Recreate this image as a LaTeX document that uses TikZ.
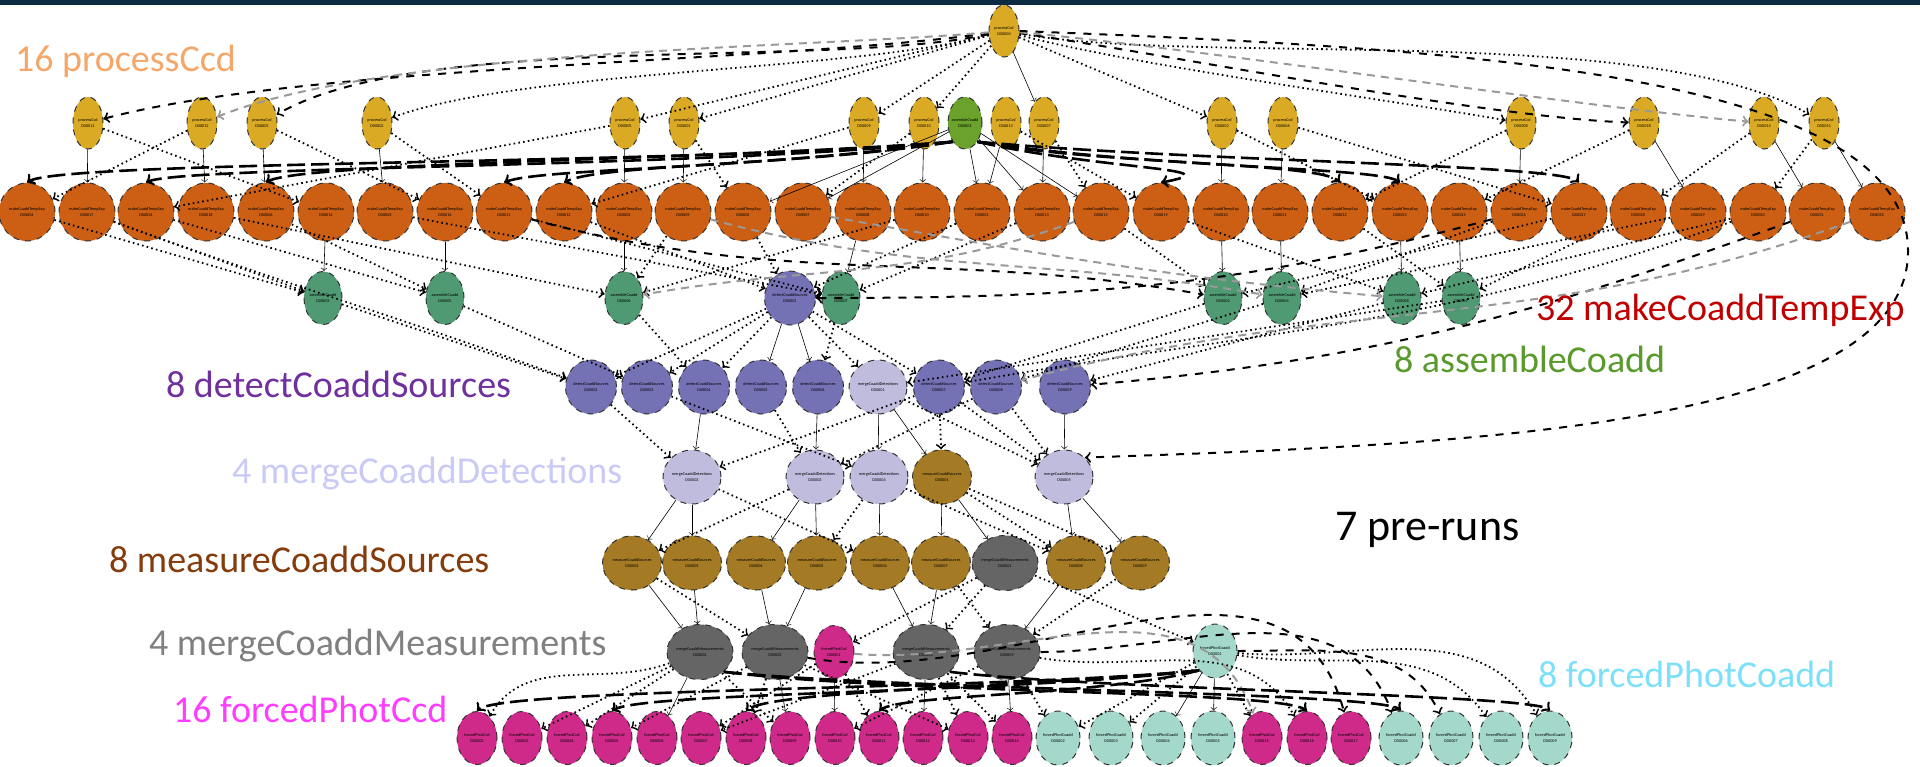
\documentclass[tikz,border=0pt]{standalone}
\usepackage{fontspec}
\setmainfont{Carlito}
\usetikzlibrary{shapes.geometric}

\definecolor{topbar}{HTML}{0B2B42}
\definecolor{pcfill}{HTML}{DBAA24}
\definecolor{agfill}{HTML}{6AA22C}
\definecolor{mtfill}{HTML}{CC5F14}
\definecolor{acfill}{HTML}{4F9A72}
\definecolor{dcfill}{HTML}{7571B5}
\definecolor{mdfill}{HTML}{C0BCDD}
\definecolor{msfill}{HTML}{A57A24}
\definecolor{mmfill}{HTML}{656565}
\definecolor{fcfill}{HTML}{CF2A8A}
\definecolor{fpfill}{HTML}{A3D8CA}
\definecolor{pctext}{HTML}{F5A769}
\definecolor{mttext}{HTML}{C00000}
\definecolor{actext}{HTML}{5A9A2D}
\definecolor{dctext}{HTML}{7030A0}
\definecolor{mdtext}{HTML}{CACAF7}
\definecolor{mstext}{HTML}{843C0C}
\definecolor{mmtext}{HTML}{808080}
\definecolor{fctext}{HTML}{FF3DFF}
\definecolor{fptext}{HTML}{7DE0FB}

% two tiny lines that never widen the ellipse
\newcommand{\tsk}[2]{\makebox[0pt]{#1}\\\makebox[0pt]{#2}}

\tikzset{
  task/.style={ellipse,draw=black!80,dashed,line width=0.5pt,inner sep=0pt,
    align=center,font=\fontsize{2.1}{2.9}\selectfont},
  count/.style={anchor=base west,font=\fontsize{19}{22}\selectfont},
  hardedge/.style={draw=black,line width=0.3pt,->},
  dotedge/.style={draw=black,line width=0.9pt,dash pattern=on 0.8pt off 1.6pt,->},
  dashedge/.style={draw=black,line width=1pt,dash pattern=on 4pt off 4pt,->},
  grayedge/.style={draw=black!40,line width=1pt,dash pattern=on 4pt off 3pt,->},
  bandedge/.style={draw=black,line width=1.3pt,dash pattern=on 9pt off 3pt,->}
}

\begin{document}
\begin{tikzpicture}[x=0.5pt,y=-0.5pt]
  \useasboundingbox (0,0) rectangle (1920,766);
  \fill[white] (0,0) rectangle (1920,766);
  \fill[topbar] (0,0) rectangle (1920,5);

  % processCcd
  \begin{scope}[every node/.style={task,fill=pcfill,minimum width=15pt,minimum height=26pt}]
    \node (pcA) at (1004,31) {\tsk{processCcd}{D00000}};
    \node (pc1) at (88,123) {\tsk{processCcd}{D00011}};
    \node (pc2) at (202,123) {\tsk{processCcd}{D00012}};
    \node (pc3) at (262,123) {\tsk{processCcd}{D00003}};
    \node (pc4) at (377,123) {\tsk{processCcd}{D00002}};
    \node (pc5) at (625,123) {\tsk{processCcd}{D00005}};
    \node (pc6) at (684,123) {\tsk{processCcd}{D00001}};
    \node (pc7) at (864,123) {\tsk{processCcd}{D00009}};
    \node (pc8) at (924,123) {\tsk{processCcd}{D00010}};
    \node (pc9) at (1006,123) {\tsk{processCcd}{D00013}};
    \node (pc10) at (1044,123) {\tsk{processCcd}{D00007}};
    \node (pc11) at (1222,123) {\tsk{processCcd}{D00002}};
    \node (pc12) at (1283,123) {\tsk{processCcd}{D00006}};
    \node (pc13) at (1521,123) {\tsk{processCcd}{D00008}};
    \node (pc14) at (1644,123) {\tsk{processCcd}{D00018}};
    \node (pc15) at (1764,123) {\tsk{processCcd}{D00014}};
    \node (pc16) at (1824,123) {\tsk{processCcd}{D00015}};
  \end{scope}
  \begin{scope}[every node/.style={task,fill=agfill,minimum width=17pt,minimum height=26pt}]
    \node (ag) at (965,123) {\tsk{assembleCoadd}{D00001}};
  \end{scope}

  % makeCoaddTempExp
  \begin{scope}[every node/.style={task,fill=mtfill,minimum width=28pt,minimum height=29pt}]
    \node (mt1) at (27,212) {\tsk{makeCoaddTempExp}{D00004}};
    \node (mt2) at (87,212) {\tsk{makeCoaddTempExp}{D00017}};
    \node (mt3) at (146,212) {\tsk{makeCoaddTempExp}{D00024}};
    \node (mt4) at (206,212) {\tsk{makeCoaddTempExp}{D00018}};
    \node (mt5) at (266,212) {\tsk{makeCoaddTempExp}{D00006}};
    \node (mt6) at (326,212) {\tsk{makeCoaddTempExp}{D00014}};
    \node (mt7) at (385,212) {\tsk{makeCoaddTempExp}{D00003}};
    \node (mt8) at (445,212) {\tsk{makeCoaddTempExp}{D00016}};
    \node (mt9) at (504,212) {\tsk{makeCoaddTempExp}{D00011}};
    \node (mt10) at (564,212) {\tsk{makeCoaddTempExp}{D00012}};
    \node (mt11) at (624,212) {\tsk{makeCoaddTempExp}{D00002}};
    \node (mt12) at (683,212) {\tsk{makeCoaddTempExp}{D00009}};
    \node (mt13) at (743,212) {\tsk{makeCoaddTempExp}{D00005}};
    \node (mt14) at (803,212) {\tsk{makeCoaddTempExp}{D00007}};
    \node (mt15) at (863,212) {\tsk{makeCoaddTempExp}{D00008}};
    \node (mt16) at (922,212) {\tsk{makeCoaddTempExp}{D00010}};
    \node (mt17) at (982,212) {\tsk{makeCoaddTempExp}{D00001}};
    \node (mt18) at (1042,212) {\tsk{makeCoaddTempExp}{D00013}};
    \node (mt19) at (1101,212) {\tsk{makeCoaddTempExp}{D00015}};
    \node (mt20) at (1161,212) {\tsk{makeCoaddTempExp}{D00019}};
    \node (mt21) at (1221,212) {\tsk{makeCoaddTempExp}{D00020}};
    \node (mt22) at (1280,212) {\tsk{makeCoaddTempExp}{D00021}};
    \node (mt23) at (1340,212) {\tsk{makeCoaddTempExp}{D00022}};
    \node (mt24) at (1400,212) {\tsk{makeCoaddTempExp}{D00023}};
    \node (mt25) at (1459,212) {\tsk{makeCoaddTempExp}{D00025}};
    \node (mt26) at (1519,212) {\tsk{makeCoaddTempExp}{D00026}};
    \node (mt27) at (1579,212) {\tsk{makeCoaddTempExp}{D00027}};
    \node (mt28) at (1638,212) {\tsk{makeCoaddTempExp}{D00028}};
    \node (mt29) at (1698,212) {\tsk{makeCoaddTempExp}{D00029}};
    \node (mt30) at (1758,212) {\tsk{makeCoaddTempExp}{D00030}};
    \node (mt31) at (1817,212) {\tsk{makeCoaddTempExp}{D00031}};
    \node (mt32) at (1877,212) {\tsk{makeCoaddTempExp}{D00032}};
  \end{scope}

  % assembleCoadd
  \begin{scope}[every node/.style={task,fill=acfill,minimum width=19pt,minimum height=26.5pt}]
    \node (ac1) at (323,298) {\tsk{assembleCoadd}{D00003}};
    \node (ac2) at (445,298) {\tsk{assembleCoadd}{D00005}};
    \node (ac3) at (624,298) {\tsk{assembleCoadd}{D00006}};
    \node (ac4) at (841,298) {\tsk{assembleCoadd}{D00007}};
    \node (ac5) at (1223,298) {\tsk{assembleCoadd}{D00002}};
    \node (ac6) at (1282,298) {\tsk{assembleCoadd}{D00004}};
    \node (ac7) at (1402,298) {\tsk{assembleCoadd}{D00008}};
    \node (ac8) at (1461,298) {\tsk{assembleCoadd}{D00009}};
  \end{scope}

  % detectCoaddSources
  \begin{scope}[every node/.style={task,fill=dcfill,minimum width=25.5pt,minimum height=27pt}]
    \node (dc0) at (790,298) {\tsk{detectCoaddSources}{D00001}};
    \node (dc1) at (591,387) {\tsk{detectCoaddSources}{D00002}};
    \node (dc2) at (647,387) {\tsk{detectCoaddSources}{D00003}};
    \node (dc3) at (704,387) {\tsk{detectCoaddSources}{D00004}};
    \node (dc4) at (761,387) {\tsk{detectCoaddSources}{D00005}};
    \node (dc5) at (818,387) {\tsk{detectCoaddSources}{D00006}};
    \node (dc6) at (939,387) {\tsk{detectCoaddSources}{D00007}};
    \node (dc7) at (996,387) {\tsk{detectCoaddSources}{D00008}};
    \node (dc8) at (1065,387) {\tsk{detectCoaddSources}{D00009}};
  \end{scope}

  % mergeCoaddDetections
  \begin{scope}[every node/.style={task,fill=mdfill,minimum width=29pt,minimum height=27pt}]
    \node (md0) at (878,387) {\tsk{mergeCoaddDetections}{D00001}};
    \node (md1) at (692,477) {\tsk{mergeCoaddDetections}{D00002}};
    \node (md2) at (815,477) {\tsk{mergeCoaddDetections}{D00003}};
    \node (md3) at (879,477) {\tsk{mergeCoaddDetections}{D00004}};
    \node (md4) at (1064,477) {\tsk{mergeCoaddDetections}{D00005}};
  \end{scope}

  % measureCoaddSources
  \begin{scope}[every node/.style={task,fill=msfill,minimum width=29.5pt,minimum height=27pt}]
    \node (ms0) at (942,477) {\tsk{measureCoaddSources}{D00001}};
    \node (ms1) at (632,563) {\tsk{measureCoaddSources}{D00002}};
    \node (ms2) at (692,563) {\tsk{measureCoaddSources}{D00003}};
    \node (ms3) at (756,563) {\tsk{measureCoaddSources}{D00004}};
    \node (ms4) at (817,563) {\tsk{measureCoaddSources}{D00005}};
    \node (ms5) at (880,563) {\tsk{measureCoaddSources}{D00006}};
    \node (ms6) at (941,563) {\tsk{measureCoaddSources}{D00007}};
    \node (ms7) at (1076,563) {\tsk{measureCoaddSources}{D00008}};
    \node (ms8) at (1140,563) {\tsk{measureCoaddSources}{D00009}};
  \end{scope}

  % mergeCoaddMeasurements
  \begin{scope}[every node/.style={task,fill=mmfill,minimum width=33pt,minimum height=27.5pt}]
    \node (mm0) at (1005,563) {\tsk{mergeCoaddMeasurements}{D00001}};
    \node (mm1) at (700,652) {\tsk{mergeCoaddMeasurements}{D00002}};
    \node (mm2) at (775,652) {\tsk{mergeCoaddMeasurements}{D00003}};
    \node (mm3) at (926,652) {\tsk{mergeCoaddMeasurements}{D00004}};
    \node (mm4) at (1007,652) {\tsk{mergeCoaddMeasurements}{D00005}};
  \end{scope}

  % forcedPhotCcd
  \begin{scope}[every node/.style={task,fill=fcfill,minimum width=20pt,minimum height=26.5pt}]
    \node (fc0) at (834,652) {\tsk{forcedPhotCcd}{D00001}};
    \node (fc1) at (477,738) {\tsk{forcedPhotCcd}{D00002}};
    \node (fc2) at (522,738) {\tsk{forcedPhotCcd}{D00003}};
    \node (fc3) at (567,738) {\tsk{forcedPhotCcd}{D00004}};
    \node (fc4) at (612,738) {\tsk{forcedPhotCcd}{D00005}};
    \node (fc5) at (657,738) {\tsk{forcedPhotCcd}{D00006}};
    \node (fc6) at (701,738) {\tsk{forcedPhotCcd}{D00007}};
    \node (fc7) at (746,738) {\tsk{forcedPhotCcd}{D00008}};
    \node (fc8) at (790,738) {\tsk{forcedPhotCcd}{D00009}};
    \node (fc9) at (835,738) {\tsk{forcedPhotCcd}{D00010}};
    \node (fc10) at (879,738) {\tsk{forcedPhotCcd}{D00011}};
    \node (fc11) at (923,738) {\tsk{forcedPhotCcd}{D00012}};
    \node (fc12) at (968,738) {\tsk{forcedPhotCcd}{D00013}};
    \node (fc13) at (1012,738) {\tsk{forcedPhotCcd}{D00014}};
    \node (fc14) at (1262,738) {\tsk{forcedPhotCcd}{D00015}};
    \node (fc15) at (1307,738) {\tsk{forcedPhotCcd}{D00016}};
    \node (fc16) at (1351,738) {\tsk{forcedPhotCcd}{D00017}};
  \end{scope}

  % forcedPhotCoadd
  \begin{scope}[every node/.style={task,fill=fpfill,minimum width=22pt,minimum height=27pt}]
    \node (fp0) at (1215,651) {\tsk{forcedPhotCoadd}{D00001}};
    \node (fp1) at (1058,738) {\tsk{forcedPhotCoadd}{D00002}};
    \node (fp2) at (1111,738) {\tsk{forcedPhotCoadd}{D00003}};
    \node (fp3) at (1163,738) {\tsk{forcedPhotCoadd}{D00004}};
    \node (fp4) at (1213,738) {\tsk{forcedPhotCoadd}{D00005}};
    \node (fp5) at (1401,738) {\tsk{forcedPhotCoadd}{D00006}};
    \node (fp6) at (1451,738) {\tsk{forcedPhotCoadd}{D00007}};
    \node (fp7) at (1501,738) {\tsk{forcedPhotCoadd}{D00008}};
    \node (fp8) at (1550,738) {\tsk{forcedPhotCoadd}{D00009}};
  \end{scope}

  % thin solid arrows
  \begin{scope}[every edge/.style={hardedge}]
    \path (pcA) edge (pc10);
    \path (pc1) edge (mt2);
    \path (pc2) edge (mt4);
    \path (pc3) edge (mt5);
    \path (pc4) edge (mt7);
    \path (pc5) edge (mt11);
    \path (pc6) edge (mt12);
    \path (pc7) edge (mt15);
    \path (pc8) edge (mt16);
    \path (pc9) edge (mt17);
    \path (pc10) edge (mt18);
    \path (pc11) edge (mt21);
    \path (pc12) edge (mt22);
    \path (pc13) edge (mt26);
    \path (pc14) edge (mt29);
    \path (pc15) edge (mt31);
    \path (pc16) edge (mt32);
    \path (ag) edge (mt13);
    \path (ag) edge (mt14);
    \path (ag) edge (mt17);
    \path (ag) edge (mt18);
    \path (ag) edge (mt19);
    \path (mt6) edge (ac1);
    \path (mt8) edge (ac2);
    \path (mt11) edge (ac3);
    \path (mt15) edge (ac4);
    \path (mt21) edge (ac5);
    \path (mt22) edge (ac6);
    \path (mt24) edge (ac7);
    \path (mt25) edge (ac8);
    \path (dc0) edge (dc4);
    \path (dc0) edge (dc5);
    \path (dc3) edge (md1);
    \path (dc5) edge (md2);
    \path (md0) edge (md3);
    \path (md0) edge (ms0);
    \path (dc8) edge (md4);
    \path (md1) edge (ms1);
    \path (md1) edge (ms2);
    \path (md2) edge (ms3);
    \path (md2) edge (ms4);
    \path (md3) edge (ms5);
    \path (ms0) edge (ms6);
    \path (ms0) edge (mm0);
    \path (md4) edge (ms7);
    \path (md4) edge (ms8);
    \path (ms1) edge (mm1);
    \path (ms2) edge (mm1);
    \path (ms3) edge (mm2);
    \path (ms4) edge (mm2);
    \path (ms5) edge (mm3);
    \path (ms6) edge (mm3);
    \path (ms7) edge (mm4);
    \path (mm1) edge (fc5);
    \path (mm2) edge (fc8);
    \path (fc0) edge (fc9);
    \path (mm3) edge (fc11);
    \path (mm4) edge (fc13);
    \path (fp0) edge (fp4);
    \path (fp0) edge (fp3);
  \end{scope}

  % dotted arrows
  \begin{scope}[every edge/.style={dotedge}]
    \path (pcA) edge (pc5);
    \path (pcA) edge (pc6);
    \path (pcA) edge (pc7);
    \path (pcA) edge (pc8);
    \path (pcA) edge (pc11);
    \path (pcA) edge[out=195,in=20,looseness=0.6] (pc4);
    \path (pcA) edge[out=345,in=170,looseness=0.6] (pc13);
    \path (pcA) edge[out=350,in=150,looseness=0.6] (pc16);
    \path (pc1) edge (mt6);
    \path (pc2) edge (mt1);
    \path (pc3) edge (mt8);
    \path (pc4) edge (mt9);
    \path (pc5) edge (mt3);
    \path (pc6) edge (mt13);
    \path (pc7) edge (mt10);
    \path (pc8) edge (mt14);
    \path (pc9) edge (mt20);
    \path (pc10) edge (mt19);
    \path (pc11) edge (mt24);
    \path (pc12) edge (mt27);
    \path (pc13) edge (mt23);
    \path (pc14) edge (mt25);
    \path (pc15) edge (mt28);
    \path (pc16) edge (mt30);
    \path (mt1) edge (ac1);
    \path (mt2) edge (ac1);
    \path (mt3) edge (ac2);
    \path (mt4) edge (ac3);
    \path (mt5) edge (ac2);
    \path (mt7) edge (ac4);
    \path (mt9) edge (ac4);
    \path (mt10) edge (dc0);
    \path (mt12) edge (ac3);
    \path (mt13) edge (dc0);
    \path (mt16) edge (ac3);
    \path (mt17) edge (dc0);
    \path (mt18) edge (ac4);
    \path (mt19) edge (ac5);
    \path (mt20) edge (ac7);
    \path (mt23) edge (ac8);
    \path (mt26) edge (ac6);
    \path (mt27) edge (ac5);
    \path (mt28) edge (ac8);
    \path (mt29) edge (ac6);
    \path (mt30) edge (ac7);
    \path (mt30) edge[out=200,in=10] (dc6);
    \path (mt2) edge[out=-20,in=160] (dc1);
    \path (ac1) edge (dc1);
    \path (ac2) edge (dc2);
    \path (ac3) edge (dc3);
    \path (ac4) edge (dc5);
    \path (ac5) edge (dc6);
    \path (ac6) edge (dc7);
    \path (ac7) edge (dc8);
    \path (ac8) edge (md0);
    \path (dc0) edge (dc1);
    \path (dc0) edge (dc2);
    \path (dc0) edge (dc3);
    \path (dc0) edge (md0);
    \path (dc0) edge (dc6);
    \path (dc1) edge (md1);
    \path (dc2) edge (md3);
    \path (dc4) edge (md2);
    \path (dc6) edge (md1);
    \path (dc7) edge (md2);
    \path (dc6) edge (md4);
    \path (dc7) edge (md4);
    \path (md0) edge (md4);
    \path (dc6) edge (ms0);
    \path (md1) edge (ms5);
    \path (md2) edge (ms1);
    \path (md3) edge (ms4);
    \path (md3) edge (ms7);
    \path (ms0) edge (ms7);
    \path (ms0) edge (ms8);
    \path (ms8) edge (mm4);
    \path (ms1) edge (mm2);
    \path (ms6) edge (mm4);
    \path (mm0) edge (fc0);
    \path (mm0) edge (mm3);
    \path (mm0) edge (fp0);
    \path (mm1) edge[out=200,in=60] (fc1);
    \path (mm1) edge (fc2);
    \path (mm1) edge (fc3);
    \path (mm1) edge (fc8);
    \path (mm2) edge (fc4);
    \path (mm2) edge (fc7);
    \path (mm2) edge (fc12);
    \path (fc0) edge (fc10);
    \path (fc0) edge (fc6);
    \path (mm3) edge (fc12);
    \path (mm3) edge (fc6);
    \path (mm3) edge (fc13);
    \path (mm4) edge (fc9);
    \path (mm4) edge (fp1);
    \path (mm4) edge[out=-10,in=120] (fc15);
    \path (fp0) edge (fp1);
    \path (fp0) edge (fp2);
    \path (fp0) edge (fc14);
    \path (fp0) edge[out=-10,in=125] (fp7);
    \path (fp0) edge[out=-5,in=120] (fp8);
  \end{scope}

  % long dashed arrows
  \begin{scope}[every edge/.style={dashedge}]
    \path (pcA) edge[out=188,in=15,looseness=0.6] (pc1);
    \path (pcA) edge[out=192,in=30,looseness=0.6] (pc3);
    \path (pcA) edge[out=352,in=178,looseness=0.6] (pc14);
    \path (mt31) edge[out=200,in=5] (dc8);
    \path (mt9) edge[out=-15,in=170] (ac5);
    \path (mt26) edge[out=195,in=0] (dc0);
    \path (mm4) edge[out=0,in=110] (fp5);
    \path (fp0) edge[out=0,in=115] (fp6);
    \path (mm2) edge[out=-10,in=105] (fc16);
  \end{scope}
  \begin{scope}[every edge/.style={grayedge}]
    \path (pcA) edge[out=185,in=22,looseness=0.6] (pc2);
    \path (pcA) edge[out=355,in=175,looseness=0.6] (pc15);
    \path (mt12) edge[out=-15,in=170] (ac6);
    \path (mt14) edge[out=-10,in=175] (ac7);
    \path (mt32) edge[out=200,in=15] (dc7);
    \path (mt19) edge[out=200,in=10] (ac3);
    \path (fc0) edge[out=-5,in=110] (fc14);
  \end{scope}
  \draw[dashedge] (pcA.east) .. controls (1450,48) and (1906,70) .. (1908,250)
    .. controls (1910,430) and (1450,445) .. (md4.north east);

  % heavy bands of overlapping edges
  \draw[bandedge] (ag.south west) .. controls (700,165) and (60,160) .. (mt1.north);
  \draw[bandedge] (ag.south west) .. controls (700,168) and (180,166) .. (mt3.north);
  \draw[bandedge] (ag.south west) .. controls (720,160) and (300,162) .. (mt5.north);
  \draw[bandedge] (ag.south west) .. controls (750,170) and (540,168) .. (mt9.north);
  \draw[bandedge] (ag.south west) .. controls (800,166) and (600,164) .. (mt10.north);
  \draw[bandedge] (ag.south east) .. controls (1100,165) and (1320,162) .. (mt23.north);
  \draw[bandedge] (ag.south east) .. controls (1150,168) and (1380,167) .. (mt24.north);
  \draw[bandedge] (ag.south east) .. controls (1200,162) and (1560,164) .. (mt27.north);
  \draw[bandedge] (ag.south east) .. controls (1100,170) and (1240,168) .. (mt20.north);
  \draw[bandedge] (fp0.south west) .. controls (1000,690) and (500,688) .. (fc1.north);
  \draw[bandedge] (fp0.south west) .. controls (1000,694) and (640,692) .. (fc4.north);
  \draw[bandedge] (fp0.south west) .. controls (1050,686) and (770,690) .. (fc7.north);
  \draw[bandedge] (fp0.south west) .. controls (1100,696) and (900,694) .. (fc10.north);
  \draw[bandedge] (mm1.south east) .. controls (900,690) and (1380,692) .. (fp5.north);
  \draw[bandedge] (mm1.south east) .. controls (900,694) and (1280,690) .. (fc15.north);
  \draw[bandedge] (mm3.south east) .. controls (1100,690) and (1530,694) .. (fp8.north);

  % counts
  \begin{scope}[every node/.style={count}]
    \node[text=pctext] (lpc) at (8,71) {16 processCcd};
    \node[text=mttext] (lmt) at (1529,320) {32 makeCoaddTempExp};
    \node[text=actext] (lac) at (1387,372) {8 assembleCoadd};
    \node[text=dctext] (ldc) at (159,397) {8 detectCoaddSources};
    \node[text=mdtext] (lmd) at (225,483) {4 mergeCoaddDetections};
    \node[text=mstext] (lms) at (102,572) {8 measureCoaddSources};
    \node[text=black,font=\fontsize{22}{25}\selectfont] (lpre) at (1328,540) {7 pre-runs};
    \node[text=mmtext] (lmm) at (142,655) {4 mergeCoaddMeasurements};
    \node[text=fctext] (lfc) at (166,722) {16 forcedPhotCcd};
    \node[text=fptext] (lfp) at (1531,687) {8 forcedPhotCoadd};
  \end{scope}
\end{tikzpicture}
\end{document}
